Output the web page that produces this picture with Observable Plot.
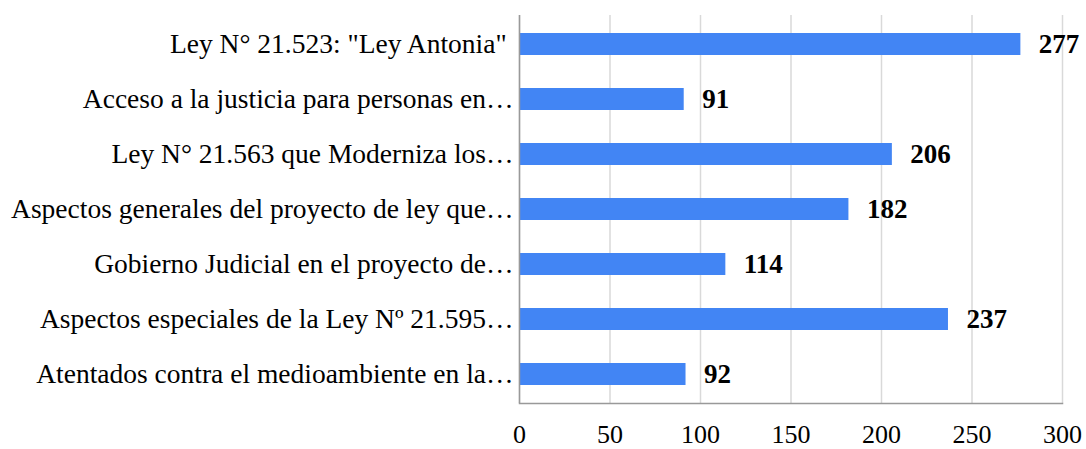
<!DOCTYPE html>
<html>
<head>
<meta charset="utf-8">
<script src="https://cdn.jsdelivr.net/npm/d3@7"></script>
<script src="https://cdn.jsdelivr.net/npm/@observablehq/plot@0.6"></script>
<style>
  html, body { margin: 0; padding: 0; background: #fff; }
  #chart { width: 1086px; height: 449px; }
  svg { font-family: "Liberation Serif", "Times New Roman", serif; }
</style>
</head>
<body>
<div id="chart"></div>
<script>
const categories = [
  "Ley N° 21.523: \"Ley Antonia\"\u00a0",
  "Acceso a la justicia para personas en…",
  "Ley N° 21.563 que Moderniza los…",
  "Aspectos generales del proyecto de ley que…",
  "Gobierno Judicial en el proyecto de…",
  "Aspectos especiales de la Ley Nº 21.595…",
  "Atentados contra el medioambiente en la…"
];
const values = [277, 91, 206, 182, 114, 237, 92];
const xTicks = [0, 50, 100, 150, 200, 250, 300];

const data = categories.map((c, i) => ({category: c, value: values[i]}));

const chart = Plot.plot({
  width: 1086,
  height: 449,
  marginLeft: 519,
  marginRight: 24,
  marginTop: 15,
  marginBottom: 46,
  style: {fontFamily: "'Liberation Serif', 'Times New Roman', serif", fontSize: "27px", color: "#000", background: "#fff"},
  x: {domain: [0, 300], ticks: xTicks, label: null, tickSize: 0, tickPadding: 21},
  y: {domain: categories, label: null, tickSize: 0, tickPadding: 6, paddingInner: 0.6, paddingOuter: 0.3},
  marks: [
    Plot.gridX(xTicks, {stroke: "#d9d9d9", strokeOpacity: 1, strokeWidth: 1.5}),
    Plot.barX(data, {x: "value", y: "category", fill: "#4285F4"}),
    Plot.ruleX([0], {stroke: "#999", strokeWidth: 1.5}),
    Plot.frame({anchor: "bottom", stroke: "#999", strokeWidth: 1.5}),
    Plot.axisY({tickSize: 0, tickPadding: 6, fontSize: 27.5, label: null}),
    Plot.axisX({ticks: xTicks, tickSize: 0, tickPadding: 21, fontSize: 26, label: null}),
    Plot.text(data, {x: "value", y: "category", text: d => String(d.value), textAnchor: "start", dx: 18, fontWeight: "bold", fontSize: 27, fill: "#000"})
  ]
});
document.getElementById("chart").appendChild(chart);
</script>
</body>
</html>
